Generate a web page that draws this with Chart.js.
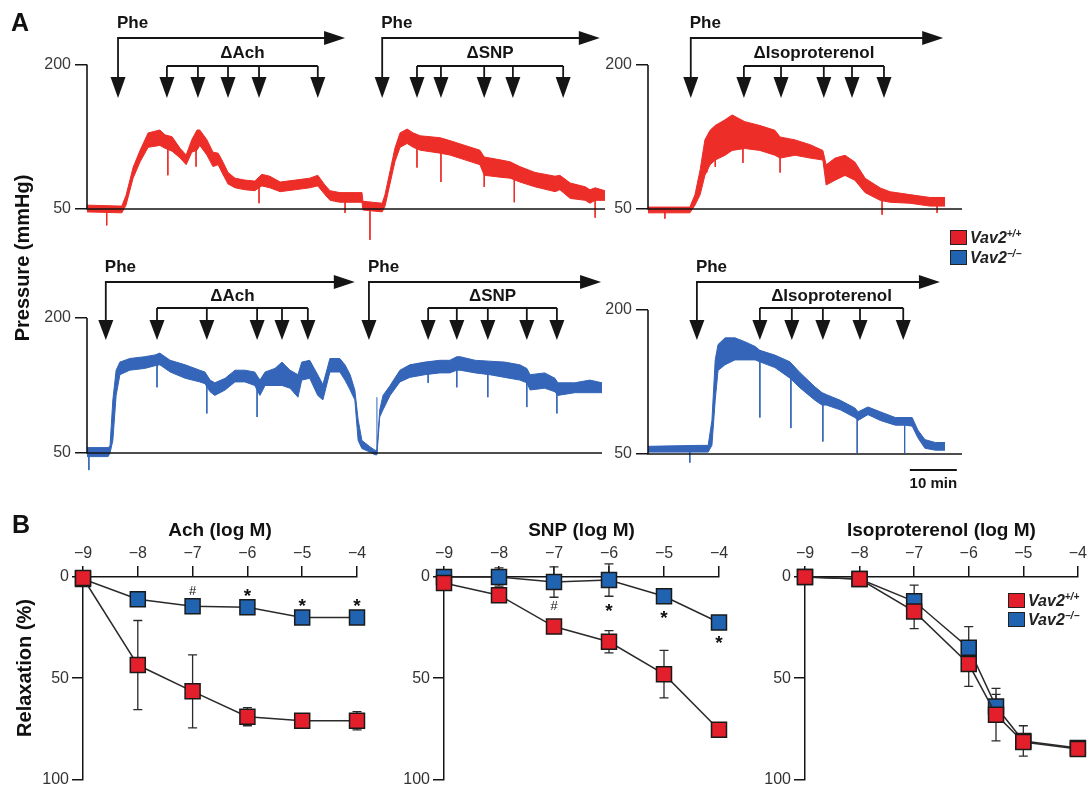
<!DOCTYPE html>
<html>
<head>
<meta charset="utf-8">
<script src="https://cdn.jsdelivr.net/npm/chart.js@4.4.1/dist/chart.umd.min.js"></script>
<style>
html,body{margin:0;padding:0;background:#fff;}
body{width:1090px;height:792px;overflow:hidden;position:relative;font-family:"Liberation Sans",Arial,Helvetica,sans-serif;}
canvas{position:absolute;}
.t{position:absolute;white-space:nowrap;color:#111;font-weight:bold;line-height:1;}
.rot{position:absolute;white-space:nowrap;color:#111;font-weight:bold;transform:translate(-50%,-50%) rotate(-90deg);line-height:1;}
.sq{position:absolute;box-sizing:border-box;border:1.5px solid #222;}
.leg{position:absolute;white-space:nowrap;color:#222;font-weight:bold;font-style:italic;font-size:16px;line-height:16px;}
.leg sup{font-size:10px;vertical-align:6px;line-height:0;}
</style>
</head>
<body>
<script>
// ===================== PANEL A : pressure traces (time in min, pressure in mmHg) =====================
// Row 1, left (Vav2+/+, Phe + ΔAch, then Phe + ΔSNP)
const r1L_t  = [0,7.4,8.3,9.8,11.3,13.0,15.5,16.6,18.1,19.8,21.1,22.3,23.4,24.0,25.5,26.8,27.9,28.7,30.0,31.5,33.6,35.7,37.2,38.9,41.1,44.3,47.4,49.1,50.6,51.7,53.8,58.5,58.7,62.8,63.4,64.5,65.5,66.6,68.1,69.4,70.9,75.1,77.2,80.4,83.6,84.5,87.9,90.0,92.1,95.3,99.6,100.6,102.8,106.0,107.0,108.1,110.2];
const r1L_lo = [47,46,54,82,99,114,116,113,110,103,96,109,111,116,106,94,96,88,76,72,70,69,74,72,68,70,72,74,65,59,57,57,49,47,53,77,99,114,118,114,111,108,106,101,96,85,83,82,78,73,68,70,61,59,56,59,59];
const r1L_hi = [54,53,64,93,111,129,132,127,125,113,106,122,132,132,122,109,108,101,88,82,80,79,86,84,78,80,82,85,75,69,67,67,58,56,65,90,113,129,133,129,126,124,121,116,111,104,101,99,94,88,84,85,77,73,70,72,69];
const r1L_spikeT   = [4.2,17.2,23.2,36.6,54.9,60.2,70.2,75.3,84.5,90.9,108.1];
const r1L_spikeTop = [50,118,120,74,62,52,120,115,95,90,65];
const r1L_spikeBot = [33,85,94,56,46,18,93,78,73,57,41];
const r1L_pheStart = [6.6,62.8];
const r1L_pheEnd   = [54.9,109.1];
const r1L_drugs    = ['ΔAch','ΔSNP'];
const r1L_adds     = [[17.0,23.6,30.0,36.6,49.1],[70.2,75.3,84.5,90.6,101.3]];

// Row 1, right (Vav2+/+, Phe + ΔIsoproterenol)
const r1R_t  = [0,8.9,10.0,11.1,12.1,13.2,14.3,16.4,17.9,20.6,23.8,27.0,28.1,31.3,34.5,37.2,37.9,39.8,41.9,44.0,46.2,49.4,51.5,55.7,60.0,63.2];
const r1R_lo = [46,46,54,65,85,96,101,106,111,113,111,106,103,106,103,101,75,80,85,80,67,59,57,56,53,53];
const r1R_hi = [52,52,65,91,122,132,137,143,148,141,137,132,125,122,117,111,96,103,106,99,82,72,68,65,62,62];
const r1R_spikeT   = [3.6,12.5,14.3,20.2,28.1,49.8,61.5];
const r1R_spikeTop = [48,110,120,125,115,62,56];
const r1R_spikeBot = [40,88,94,98,88,44,46];
const r1R_pheStart = [9.1];
const r1R_pheEnd   = [62.8];
const r1R_drugs    = ['ΔIsoproterenol'];
const r1R_adds     = [[20.4,28.3,37.4,43.4,50.2]];

// Row 2, left (Vav2-/-, Phe + ΔAch, then Phe + ΔSNP)
const r2L_t  = [0,4.5,4.9,5.5,6.2,7.0,9.1,12.3,14.5,15.5,17.7,20.9,24.0,25.1,26.2,27.2,29.4,31.5,33.6,35.7,36.8,37.9,40.0,41.5,43.2,44.9,45.7,47.4,49.1,50.2,51.7,53.8,54.9,56.0,57.0,57.7,58.5,60.2,61.3,61.7,62.3,63.0,64.5,66.6,68.7,71.9,75.1,77.2,78.7,79.4,82.6,85.7,88.9,92.1,93.6,94.3,97.4,99.6,100.2,103.8,107.0,109.6];
const r2L_lo = [46,46,50,64,114,137,142,144,147,148,140,133,129,127,118,114,120,129,129,125,114,125,125,125,122,112,131,133,114,109,140,140,131,120,109,64,55,51,48,48,90,98,114,129,134,137,139,139,142,142,139,137,134,131,128,120,122,118,114,117,117,117];
const r2L_hi = [56,56,58,109,142,151,155,157,159,161,153,148,142,140,131,128,133,142,142,140,131,140,144,151,142,137,151,153,137,126,155,155,148,137,120,87,64,57,53,53,98,114,125,142,148,151,153,153,157,157,153,152,151,148,144,137,139,133,128,128,131,128];
const r2L_spikeT   = [0.4,14.9,25.5,36.2,61.7,72.6,78.7,85.3,93.6,100.0];
const r2L_spikeTop = [50,150,130,128,50,145,148,145,135,125];
const r2L_spikeBot = [31,123,94,90,112,128,123,112,101,94];
const r2L_pheStart = [4.0,60.0];
const r2L_pheEnd   = [57.0,109.4];
const r2L_drugs    = ['ΔAch','ΔSNP'];
const r2L_adds     = [[14.9,25.5,36.2,41.5,47.0],[72.6,78.7,85.3,93.6,100.0]];

// Row 2, right (Vav2-/-, Phe + ΔIsoproterenol)
const r2R_t  = [0,11.1,12.8,13.6,14.3,14.9,16.4,18.5,20.6,22.8,23.8,27.0,30.2,32.3,35.5,37.0,37.9,40.9,44.0,44.7,46.8,49.4,52.6,54.7,56.2,57.4,58.9,61.1,63.2];
const r2R_lo = [52,52,52,59,106,137,143,148,148,148,146,140,129,119,106,101,101,96,88,85,91,85,80,80,79,67,56,54,54];
const r2R_hi = [58,59,59,85,148,164,171,171,167,162,158,153,146,135,120,114,112,106,98,94,99,94,88,88,88,75,65,62,62];
const r2R_spikeT   = [8.9,23.8,30.4,37.2,44.5,54.6];
const r2R_spikeTop = [55,150,135,108,90,84];
const r2R_spikeBot = [41,88,77,63,51,51];
const r2R_pheStart = [10.4];
const r2R_pheEnd   = [62.1];
const r2R_drugs    = ['ΔIsoproterenol'];
const r2R_adds     = [[23.8,30.6,37.2,45.1,54.3]];

const pressureTicks = [50,200];
const scaleBarMin = 10;          // "10 min" scale bar
const scaleBarStart = 55.7;      // min, on row 2 right time axis

// ===================== PANEL B : relaxation (%) vs log M =====================
const logTicks = [-9,-8,-7,-6,-5,-4];
const relTicks = [0,50,100];

const achX       = [-9,-8,-7,-6,-5,-4];
const achWT      = [0.5,43.5,56.5,69,71,71];
const achWTErr   = [0,22,18,4.5,1.5,4.5];
const achKO      = [1,11,14.5,15,20,20];
const achKOErr   = [0,0,0,0,0,0];
const achSigX    = [-7,-6,-5,-4];
const achSigY    = [7.3,7.3,12,12];
const achSigTxt  = ['#','*','*','*'];

const snpX       = [-9,-8,-7,-6,-5,-4];
const snpWT      = [3,9,24.5,32,48,75.5];
const snpWTErr   = [0,3.5,0,5.5,11.7,0];
const snpKO      = [0,0,2.5,1.5,9.5,22.5];
const snpKOErr   = [0,4.5,7.5,8,0,0];
const snpSigX    = [-7,-6,-5,-4];
const snpSigY    = [14.6,14.6,18,30.6];
const snpSigTxt  = ['#','*','*','*'];

const isoX       = [-9,-8,-7,-6,-5.5,-5,-4];
const isoWT      = [0,1,17,43,68,81.5,85];
const isoWTErr   = [0,0,8.5,11,13,3,0];
const isoKO      = [0,1,12,35,64,81,84.5];
const isoKOErr   = [0,0,8,10.5,6,7.5,0];

// ===================== styling / rendering =====================
const FONT = "'Liberation Sans', Arial, Helvetica, sans-serif";
const RED_TRACE = '#ec2d28', BLUE_TRACE = '#3465b8';
const RED_SQ = '#e21f2a', BLUE_SQ = '#1f63b1';
Chart.defaults.font.family = FONT;
Chart.defaults.animation = false;
Chart.defaults.events = [];
Chart.defaults.plugins.legend.display = false;
Chart.defaults.plugins.tooltip.enabled = false;

function addCanvas(box){
  const cv = document.createElement('canvas');
  cv.width = box.w; cv.height = box.h;
  cv.style.left = box.x + 'px'; cv.style.top = box.y + 'px';
  cv.style.width = box.w + 'px'; cv.style.height = box.h + 'px';
  document.body.appendChild(cv);
  return cv;
}

function traceChart(c){
  const cv = addCanvas(c.box);
  const k = (c.area.y50 - c.area.y200) / 150;
  const topPad = c.area.y200 - c.box.y;
  const bottomPx = c.area.y50 + (50 - c.ymin) * k - c.box.y;
  const spData = [];
  c.spT.forEach((tt,i)=>{ spData.push({x:tt,y:c.spTop[i]},{x:tt,y:c.spBot[i]},{x:tt,y:null}); });
  const ann = c.annY;
  const plugin = {
    id:'anno',
    afterDatasetsDraw(chart){
      const ctx = chart.ctx, xs = chart.scales.x, ys = chart.scales.y, a = chart.chartArea;
      const Y = v => v - c.box.y;
      ctx.save();
      ctx.strokeStyle = '#151515'; ctx.fillStyle = '#151515';
      ctx.lineWidth = 1.6;
      const y50 = ys.getPixelForValue(50), y200 = ys.getPixelForValue(200);
      ctx.beginPath(); ctx.moveTo(a.left, y200); ctx.lineTo(a.left, y50); ctx.lineTo(a.right, y50); ctx.stroke();
      const head = (x) => {
        ctx.beginPath(); ctx.moveTo(x-7.5, Y(ann.headTop)); ctx.lineTo(x+7.5, Y(ann.headTop)); ctx.lineTo(x, Y(ann.tip)); ctx.closePath(); ctx.fill();
      };
      ctx.lineWidth = 1.8;
      c.phe.forEach((p,g)=>{
        const px = xs.getPixelForValue(p), ex = xs.getPixelForValue(c.pheEnd[g]);
        ctx.font = 'bold 17px ' + FONT; ctx.textAlign = 'left'; ctx.textBaseline = 'middle';
        ctx.fillText('Phe', px - 1, Y(ann.text));
        ctx.beginPath(); ctx.moveTo(px, Y(ann.headTop)+1); ctx.lineTo(px, Y(ann.line)); ctx.lineTo(ex-18, Y(ann.line)); ctx.stroke();
        ctx.beginPath(); ctx.moveTo(ex-21, Y(ann.line)-7); ctx.lineTo(ex, Y(ann.line)); ctx.lineTo(ex-21, Y(ann.line)+7); ctx.closePath(); ctx.fill();
        head(px);
        const ax = c.adds[g].map(v => xs.getPixelForValue(v));
        ctx.beginPath(); ctx.moveTo(ax[0], Y(ann.bracket)); ctx.lineTo(ax[ax.length-1], Y(ann.bracket)); ctx.stroke();
        ax.forEach(x => { ctx.beginPath(); ctx.moveTo(x, Y(ann.bracket)); ctx.lineTo(x, Y(ann.headTop)+1); ctx.stroke(); head(x); });
        ctx.textAlign = 'center';
        ctx.fillText(c.drugs[g], (ax[0] + ax[ax.length-1]) / 2, Y(ann.label));
      });
      if (c.scaleBar){
        const x0 = xs.getPixelForValue(scaleBarStart), x1 = xs.getPixelForValue(scaleBarStart + scaleBarMin);
        ctx.lineWidth = 1.8;
        ctx.beginPath(); ctx.moveTo(x0, Y(470)); ctx.lineTo(x1, Y(470)); ctx.stroke();
        ctx.font = 'bold 15px ' + FONT; ctx.textAlign = 'center'; ctx.textBaseline = 'middle';
        ctx.fillText(scaleBarMin + ' min', (x0+x1)/2, Y(484));
      }
      ctx.restore();
    }
  };
  return new Chart(cv, {
    type:'line',
    data:{datasets:[
      {data:c.t.map((x,i)=>({x,y:c.hi[i]})), borderColor:c.color, backgroundColor:c.color, borderWidth:1, pointRadius:0, fill:'+1', tension:0},
      {data:c.t.map((x,i)=>({x,y:c.lo[i]})), borderColor:c.color, borderWidth:1, pointRadius:0, fill:false, tension:0},
      {data:spData, borderColor:c.color, borderWidth:1, pointRadius:0, fill:false, spanGaps:false}
    ]},
    options:{
      responsive:false,
      layout:{padding:{top:topPad, bottom:c.box.h - bottomPx, left:0, right:c.box.x + c.box.w - c.area.right}},
      scales:{
        x:{type:'linear', min:0, max:c.xmax, display:false},
        y:{type:'linear', min:c.ymin, max:200,
           afterBuildTicks:s=>{ s.ticks = pressureTicks.map(v=>({value:v})); },
           afterFit:s=>{ s.width = c.area.left - c.box.x; },
           ticks:{font:{size:16}, color:'#3a3a3a', padding:4},
           grid:{display:true, drawOnChartArea:false, drawTicks:true, tickLength:12, color:'#151515', lineWidth:1.5},
           border:{display:false}}
      }
    },
    plugins:[plugin]
  });
}

const ann1 = {text:23, line:38, label:53, bracket:66, headTop:77, tip:98};
const ann2 = {text:267, line:282, label:296, bracket:308, headTop:320, tip:340};

traceChart({box:{x:0,y:0,w:612,h:262}, area:{left:87,right:605,y200:64.5,y50:209}, xmax:110.2, ymin:10, color:RED_TRACE,
  t:r1L_t, lo:r1L_lo, hi:r1L_hi, spT:r1L_spikeT, spTop:r1L_spikeTop, spBot:r1L_spikeBot,
  phe:r1L_pheStart, pheEnd:r1L_pheEnd, drugs:r1L_drugs, adds:r1L_adds, annY:ann1});
traceChart({box:{x:600,y:0,w:490,h:250}, area:{left:648,right:962,y200:65,y50:209}, xmax:66.8, ymin:30, color:RED_TRACE,
  t:r1R_t, lo:r1R_lo, hi:r1R_hi, spT:r1R_spikeT, spTop:r1R_spikeTop, spBot:r1R_spikeBot,
  phe:r1R_pheStart, pheEnd:r1R_pheEnd, drugs:r1R_drugs, adds:r1R_adds, annY:ann1});
traceChart({box:{x:0,y:255,w:612,h:240}, area:{left:87,right:602,y200:318,y50:453}, xmax:109.6, ymin:25, color:BLUE_TRACE,
  t:r2L_t, lo:r2L_lo, hi:r2L_hi, spT:r2L_spikeT, spTop:r2L_spikeTop, spBot:r2L_spikeBot,
  phe:r2L_pheStart, pheEnd:r2L_pheEnd, drugs:r2L_drugs, adds:r2L_adds, annY:ann2});
traceChart({box:{x:600,y:255,w:490,h:240}, area:{left:648,right:962,y200:310,y50:454}, xmax:66.8, ymin:30, color:BLUE_TRACE,
  t:r2R_t, lo:r2R_lo, hi:r2R_hi, spT:r2R_spikeT, spTop:r2R_spikeTop, spBot:r2R_spikeBot,
  phe:r2R_pheStart, pheEnd:r2R_pheEnd, drugs:r2R_drugs, adds:r2R_adds, annY:ann2, scaleBar:true});

function drChart(c){
  const cv = addCanvas(c.box);
  const errPlugin = {
    id:'errbars',
    beforeDatasetsDraw(chart){
      const ctx = chart.ctx, xs = chart.scales.x, ys = chart.scales.y;
      ctx.save(); ctx.strokeStyle = '#2a2a2a'; ctx.lineWidth = 1.3;
      [[c.wt,c.wtErr],[c.ko,c.koErr]].forEach(([vals,errs])=>{
        vals.forEach((v,i)=>{
          const e = errs[i]; if (!e) return;
          const x = xs.getPixelForValue(c.x[i]);
          const y1 = ys.getPixelForValue(v - e), y2 = ys.getPixelForValue(v + e);
          ctx.beginPath(); ctx.moveTo(x,y1); ctx.lineTo(x,y2);
          ctx.moveTo(x-4.5,y1); ctx.lineTo(x+4.5,y1); ctx.moveTo(x-4.5,y2); ctx.lineTo(x+4.5,y2); ctx.stroke();
        });
      });
      ctx.restore();
    },
    afterDatasetsDraw(chart){
      if (!c.sigX) return;
      const ctx = chart.ctx, xs = chart.scales.x, ys = chart.scales.y;
      ctx.save(); ctx.fillStyle = '#111'; ctx.textAlign = 'center'; ctx.textBaseline = 'middle';
      c.sigX.forEach((sx,i)=>{
        const x = xs.getPixelForValue(sx), y = ys.getPixelForValue(c.sigY[i]);
        if (c.sigTxt[i] === '*'){ ctx.font = 'bold 19px ' + FONT; ctx.fillText('*', x, y + 5); }
        else { ctx.font = '13px ' + FONT; ctx.fillText(c.sigTxt[i], x, y); }
      });
      ctx.restore();
    }
  };
  const ds = (vals, col) => ({
    data: c.x.map((x,i)=>({x, y:vals[i]})),
    borderColor:'#2a2a2a', borderWidth:1.5, tension:0,
    pointStyle:'rect', pointRadius:10.6, pointBackgroundColor:col, pointBorderColor:'#1a1a1a', pointBorderWidth:1.5,
    clip:false
  });
  return new Chart(cv, {
    type:'line',
    data:{datasets:[ds(c.wt, RED_SQ), ds(c.ko, BLUE_SQ)]},
    options:{
      responsive:false,
      layout:{padding:{top:0, left:0, right:c.box.x + c.box.w - c.area.right, bottom:c.box.y + c.box.h - c.area.bottom}},
      scales:{
        x:{type:'linear', position:'top', min:-9, max:-4,
           afterBuildTicks:s=>{ s.ticks = logTicks.map(v=>({value:v})); },
           afterFit:s=>{ s.height = c.area.top - c.box.y; },
           ticks:{callback:v=>'\u2212' + Math.abs(v), font:{size:16}, color:'#333', padding:3, maxRotation:0, autoSkip:false},
           grid:{display:true, drawOnChartArea:false, drawTicks:true, tickLength:11, color:'#151515', lineWidth:1.5},
           border:{display:true, color:'#151515', width:1.5},
           title:{display:true, text:c.title, font:{size:19, weight:'bold'}, color:'#111', padding:{top:19, bottom:0}}},
        y:{type:'linear', reverse:true, min:0, max:100,
           afterBuildTicks:s=>{ s.ticks = relTicks.map(v=>({value:v})); },
           afterFit:s=>{ s.width = c.area.left - c.box.x; },
           ticks:{font:{size:16}, color:'#333', padding:3},
           grid:{display:true, drawOnChartArea:false, drawTicks:true, tickLength:11, color:'#151515', lineWidth:1.5},
           border:{display:true, color:'#151515', width:1.5}}
      }
    },
    plugins:[errPlugin]
  });
}

drChart({box:{x:0,y:500,w:372,h:292}, area:{left:83,right:357,top:577,bottom:783}, title:'Ach (log M)',
  x:achX, wt:achWT, wtErr:achWTErr, ko:achKO, koErr:achKOErr, sigX:achSigX, sigY:achSigY, sigTxt:achSigTxt});
drChart({box:{x:372,y:500,w:360,h:292}, area:{left:444,right:719,top:577,bottom:784}, title:'SNP (log M)',
  x:snpX, wt:snpWT, wtErr:snpWTErr, ko:snpKO, koErr:snpKOErr, sigX:snpSigX, sigY:snpSigY, sigTxt:snpSigTxt});
drChart({box:{x:732,y:500,w:358,h:292}, area:{left:805,right:1079,top:577,bottom:784}, title:'Isoproterenol (log M)',
  x:isoX, wt:isoWT, wtErr:isoWTErr, ko:isoKO, koErr:isoKOErr});
</script>

<div class="t" style="left:11px;top:10px;font-size:25px">A</div>
<div class="t" style="left:12px;top:512px;font-size:25px">B</div>
<div class="rot" style="left:22px;top:258px;font-size:20px">Pressure (mmHg)</div>
<div class="rot" style="left:24px;top:668px;font-size:20px">Relaxation (%)</div>

<div class="sq" style="left:950px;top:230px;width:17px;height:15px;background:#e21f2a"></div>
<div class="leg" style="left:970px;top:230px">Vav2<sup>+/+</sup></div>
<div class="sq" style="left:950px;top:250px;width:17px;height:15px;background:#1f63b1"></div>
<div class="leg" style="left:970px;top:250px">Vav2<sup>−/−</sup></div>

<div class="sq" style="left:1008px;top:593px;width:17px;height:15px;background:#e21f2a"></div>
<div class="leg" style="left:1028px;top:593px">Vav2<sup>+/+</sup></div>
<div class="sq" style="left:1008px;top:612px;width:17px;height:15px;background:#1f63b1"></div>
<div class="leg" style="left:1028px;top:612px">Vav2<sup>−/−</sup></div>
</body>
</html>
